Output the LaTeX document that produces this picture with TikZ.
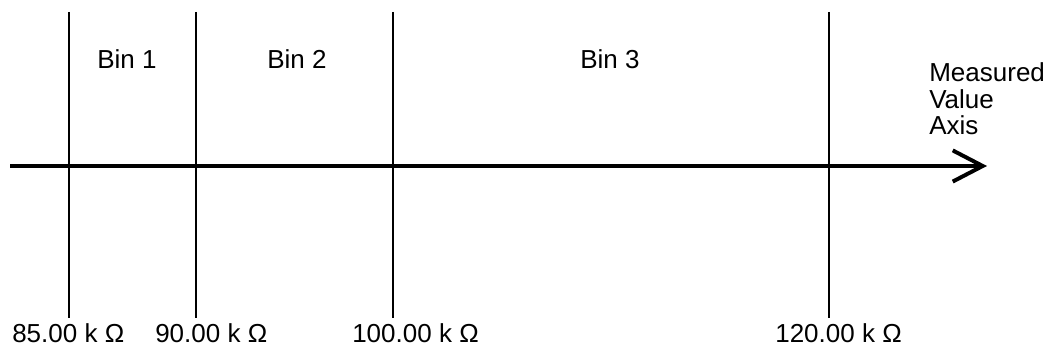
\documentclass[tikz,border=0pt]{standalone}
\usepackage{fontspec}
\setmainfont{Liberation Sans}
\usepackage{tikz}
\usetikzlibrary{arrows.meta}

\begin{document}
\begin{tikzpicture}[x=0.025cm, y=-0.025cm,
    binline/.style={line width=1.4pt},
    axisline/.style={line width=2.8pt, -{Straight Barb[length=0.75cm, width=0.78cm]}},
    lbl/.style={font=\fontsize{18.5}{18.5}\selectfont, inner sep=0pt, anchor=base}]
  \useasboundingbox (0,0) rectangle (1055,352);
  % bin boundaries
  \foreach \x/\name in {69/b1, 196/b2, 393/b3, 829/b4} {
    \coordinate (\name top) at (\x,12);
    \coordinate (\name bot) at (\x,318);
    \draw[binline] (\name top) -- (\name bot);
  }
  % measured value axis
  \coordinate (axstart) at (10,166);
  \coordinate (axend) at (987,166);
  \draw[axisline] (axstart) -- (axend);
  % bin names
  \node[lbl] (bin1) at (127,69) {Bin 1};
  \node[lbl] (bin2) at (297,69) {Bin 2};
  \node[lbl] (bin3) at (610,69) {Bin 3};
  \node[lbl, anchor=base west, align=left,
        font=\fontsize{18.5}{19}\selectfont] (axname) at (929,135)
        {Measured\\Value\\Axis};
  % limits
  \node[lbl, anchor=base west] (lim1) at (12,343) {85.00 k Ω};
  \node[lbl, anchor=base west] (lim2) at (155,343) {90.00 k Ω};
  \node[lbl, anchor=base west] (lim3) at (352,343) {100.00 k Ω};
  \node[lbl, anchor=base west] (lim4) at (775,343) {120.00 k Ω};
\end{tikzpicture}
\end{document}
